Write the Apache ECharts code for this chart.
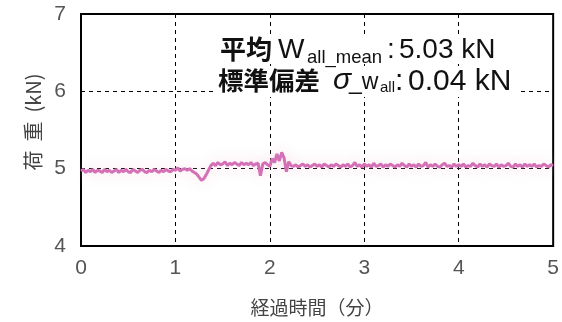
<!DOCTYPE html>
<html><head><meta charset="utf-8">
<script src="https://cdn.jsdelivr.net/npm/echarts@6/dist/echarts.min.js"></script>
<style>html,body{margin:0;padding:0;background:#fff}#c{width:562px;height:322px}</style>
</head><body><div id="c"></div>
<script>
// time step (minutes) between samples
const timeStep = 0.025;
// load (kN) sampled every 0.025 min from 0 to 5 min
const loads = [
4.97,4.99,4.95,4.98,4.96,4.99,4.95,4.98,4.97,4.95,
4.99,4.96,4.98,4.95,4.97,4.99,4.95,4.98,4.96,4.99,
4.96,4.95,4.99,4.97,4.95,4.98,4.99,4.96,4.95,4.98,
4.96,4.99,4.97,4.95,4.98,4.96,4.99,4.97,4.96,4.99,
4.98,5.01,4.97,4.99,5.00,4.98,5.00,4.97,4.95,4.93,
4.89,4.85,4.87,4.92,4.98,5.04,5.07,5.04,5.08,5.05,
5.06,5.09,5.04,5.07,5.05,5.08,5.06,5.04,5.08,5.05,
5.07,5.05,5.08,5.04,5.06,5.07,4.91,5.06,5.08,5.05,
5.03,5.13,5.08,5.19,5.10,5.21,5.14,4.96,5.09,5.04,
5.03,5.05,5.02,5.04,5.06,5.03,5.05,5.02,5.04,5.06,
5.03,5.05,5.02,5.06,5.04,5.02,5.05,5.03,5.06,5.04,
5.02,5.05,5.03,5.06,5.02,5.04,5.08,5.03,5.05,5.02,
5.06,5.03,5.05,5.02,5.07,5.03,5.04,5.06,5.02,5.05,
5.03,5.06,5.04,5.02,5.05,5.03,5.07,5.04,5.02,5.06,
5.03,5.05,5.02,5.06,5.03,5.04,5.08,5.02,5.05,5.03,
5.06,5.03,5.02,5.05,5.07,5.03,5.04,5.02,5.06,5.03,
5.05,5.03,5.06,5.02,5.04,5.03,5.07,5.04,5.02,5.06,
5.03,5.05,5.02,5.06,5.04,5.03,5.06,5.02,5.05,5.03,
5.04,5.07,5.03,5.02,5.06,5.03,5.05,5.02,5.06,5.03,
5.05,5.03,5.06,5.02,5.04,5.03,5.06,5.04,5.02,5.05,
5.04
];
const xTicks = {min: 0, max: 5, interval: 1};
const yTicks = {min: 4, max: 7, interval: 1};
const xName = '経過時間（分）';
const yName = '荷  重  (kN)';
const meanLabel = '平均';
const stdLabel = '標準偏差';
const meanValue = '5.03 kN';
const stdValue = '0.04 kN';

const seriesData = loads.map((v, i) => [+(i * timeStep).toFixed(3), v]);
const latin = '"Liberation Sans", "Noto Sans CJK JP", sans-serif';
const cjk = '"Noto Sans CJK JP", sans-serif';

function txt(x, y, text, size, opts) {
  opts = opts || {};
  return {
    type: 'text', z: 12,
    style: {
      x: x, y: y, text: text, verticalAlign: 'middle', align: 'left',
      fill: '#111',
      font: (opts.style || 'normal') + ' ' + (opts.weight || 'normal') + ' ' + size + 'px ' + (opts.family || latin)
    }
  };
}

const chart = echarts.init(document.getElementById('c'));
chart.setOption({
  animation: false,
  backgroundColor: '#fff',
  grid: {left: 81, right: 7, top: 14, bottom: 76, show: true, borderColor: '#000', borderWidth: 2, backgroundColor: 'transparent'},
  xAxis: {
    type: 'value', min: xTicks.min, max: xTicks.max, interval: xTicks.interval,
    name: xName, nameLocation: 'middle', nameGap: 52,
    nameTextStyle: {fontSize: 19, color: '#444', fontFamily: cjk},
    axisLine: {show: false}, axisTick: {show: false},
    axisLabel: {fontSize: 21, color: '#555', margin: 12, fontFamily: latin},
    splitLine: {show: true, lineStyle: {color: '#000', type: [4, 4], width: 1}}
  },
  yAxis: {
    type: 'value', min: yTicks.min, max: yTicks.max, interval: yTicks.interval,
    name: yName, nameLocation: 'middle', nameGap: 34, nameRotate: 90,
    nameTextStyle: {fontSize: 20, color: '#444', fontFamily: cjk, padding: [0, 0, 0, 16]},
    axisLine: {show: false}, axisTick: {show: false},
    axisLabel: {fontSize: 21, color: '#555', margin: 15, fontFamily: latin},
    splitLine: {show: true, lineStyle: {color: '#000', type: [4, 4], width: 1}}
  },
  series: [{
    type: 'line', data: seriesData, showSymbol: false, symbol: 'none',
    lineStyle: {color: '#d471b6', width: 3, shadowColor: 'rgba(240,200,215,0.7)', shadowBlur: 14},
    z: 3
  }],
  graphic: [
    {type: 'rect', z: 11, shape: {x: 216, y: 35, width: 285, height: 29}, style: {fill: '#fff'}},
    {type: 'rect', z: 11, shape: {x: 214, y: 67, width: 306, height: 30}, style: {fill: '#fff'}},
    txt(220, 49, meanLabel, 26, {weight: 'bold', family: cjk}),
    txt(278, 50, 'W', 28),
    txt(307, 58, 'all_mean', 18.5),
    txt(387, 50, ':', 28),
    txt(399, 50, meanValue, 28),
    txt(218, 80, stdLabel, 25.5, {weight: 'bold', family: cjk}),
    txt(333, 81, 'σ', 30, {style: 'italic'}),
    txt(349, 83, '_w', 23),
    txt(380, 88, 'all', 15),
    txt(395, 82, ':', 30),
    txt(408, 82, stdValue, 30)
  ]
});
</script></body></html>
